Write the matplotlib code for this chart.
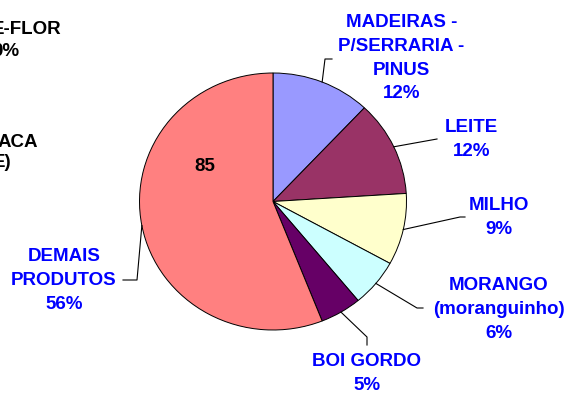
import numpy as np
import matplotlib
matplotlib.use("Agg")
import matplotlib.pyplot as plt

# share of each product, clockwise from 12 o'clock
products = ["MADEIRAS -\nP/SERRARIA -\nPINUS", "LEITE", "MILHO",
            "MORANGO\n(moranguinho)", "BOI GORDO", "DEMAIS\nPRODUTOS"]
shares = [12, 12, 9, 6, 5, 56]
colors = ["#9999FF", "#993366", "#FFFFCC", "#CCFFFF", "#660066", "#FF8080"]
inner_note = "85"

W, H = 572, 394
CX, CY = 273.0, 201.5      # pie centre, pixels from top-left
RX, RY = 133.5, 128.5      # the pie is a little wider than tall

# label anchors (centre x, top y) and leader bends, in pixels
label_pos = [(401.5, 14), (471.5, 119), (499, 197), (499, 277), (367, 353), (64, 248)]
leader_bends = [
    [(325, 59), (332, 59)],
    [(437, 139)],
    [(460, 217), (465, 217)],
    [(417, 308), (423, 308)],
    [(367, 337), (367, 345)],
    [(137, 280), (123, 280)],
]

fig = plt.figure(figsize=(W / 100, H / 100), dpi=100)
pie_ax = fig.add_axes([(CX - RX) / W, (H - CY - RY) / H, 2 * RX / W, 2 * RY / H])
pie_ax.pie(shares, colors=colors, startangle=90, counterclock=False,
           wedgeprops=dict(edgecolor="black", linewidth=0.7, clip_on=False))
pie_ax.set_aspect("auto")
pie_ax.set_xlim(-1, 1)
pie_ax.set_ylim(-1, 1)
pie_ax.axis("off")

ax = fig.add_axes([0, 0, 1, 1], zorder=2)
ax.set_xlim(0, W)
ax.set_ylim(H, 0)
ax.axis("off")

font = dict(family="Liberation Sans", weight="bold", fontsize=13.5)

# leader lines start on the rim at the middle of each wedge
bounds = 90 - 3.6 * np.concatenate([[0], np.cumsum(shares)])
for i, (name, pct) in enumerate(zip(products, shares)):
    mid = np.radians((bounds[i] + bounds[i + 1]) / 2)
    start = (CX + RX * np.cos(mid), CY - RY * np.sin(mid))
    pts = [start] + leader_bends[i]
    ax.plot([p[0] for p in pts], [p[1] for p in pts], color="black", lw=0.8)
    x, y = label_pos[i]
    ax.text(x, y, f"{name}\n{pct}%", color="#0000FF", ha="center", va="top",
            multialignment="center", linespacing=1.52, **font)

ax.text(205, 166, inner_note, color="black", ha="center", va="center", **font)

# labels of the slices further left, cut by the left edge
ax.text(61, 34, "E-FLOR", color="black", ha="right", va="baseline", **font)
ax.text(19, 56, "0%", color="black", ha="right", va="baseline", **font)
ax.text(38, 147, "ACA", color="black", ha="right", va="baseline", **font)
ax.text(11, 167, "E)", color="black", ha="right", va="baseline", **font)

fig.savefig("out.png", dpi=100)
